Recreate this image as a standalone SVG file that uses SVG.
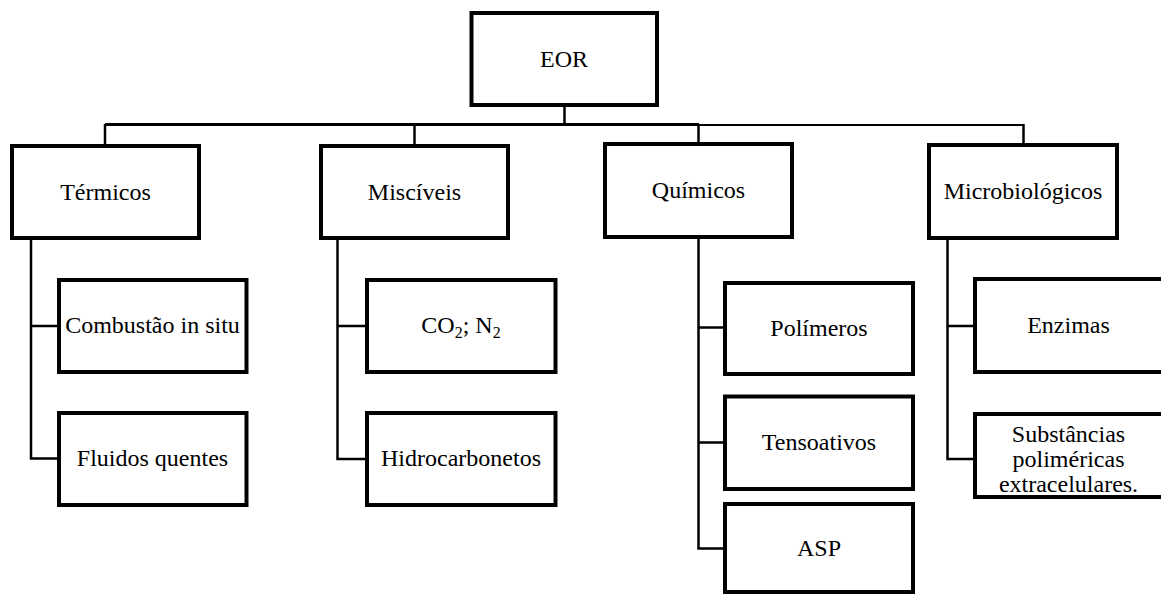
<svg xmlns="http://www.w3.org/2000/svg" width="1161" height="596" viewBox="0 0 1161 596">
<style>
.box{fill:#fff;stroke:#000;stroke-width:4}
text{font-family:'Liberation Serif','DejaVu Serif',serif;font-size:24px;fill:#000;text-anchor:middle}
.c{fill:none;stroke:#000;stroke-width:2.5}
</style>
<rect width="1161" height="596" fill="#fff"/>
<g id="connectors">
<path class="c" d="M564.5 105V125"/>
<path class="c" style="stroke-width:3" d="M105 124.5H699"/>
<path class="c" style="stroke-width:2" d="M699 125H1023.5"/>
<path class="c" d="M105 124V146M414.5 124V146M698.5 124V144M1023.5 124V145"/>
<path class="c" d="M31 238V458.5H59M31 326H59"/>
<path class="c" d="M337.5 238V459H367M337.5 326H367"/>
<path class="c" d="M698.5 237V548.5H725M698.5 327.5H725M698.5 442.5H725"/>
<path class="c" d="M947.5 238V459H975M947.5 326H975"/>
</g>
<g font-family="Liberation Serif, serif" font-size="24" text-anchor="middle">
<g id="eor"><rect class="box" x="471.5" y="13" width="185.5" height="92"/><text x="564" y="67">EOR</text></g>
<g id="termicos"><rect class="box" x="12" y="146" width="187" height="92"/><text x="105.5" y="200">Térmicos</text></g>
<g id="misciveis"><rect class="box" x="321" y="146" width="187" height="92"/><text x="414.5" y="200">Miscíveis</text></g>
<g id="quimicos"><rect class="box" x="605" y="144" width="187" height="93"/><text x="698.5" y="198">Químicos</text></g>
<g id="microbiologicos"><rect class="box" x="929" y="145" width="188" height="93"/><text x="1023" y="199">Microbiológicos</text></g>
<g id="combustao"><rect class="box" x="59" y="280" width="187.5" height="92"/><text x="152.5" y="333">Combustão in situ</text></g>
<g id="fluidos"><rect class="box" x="59" y="413" width="187.5" height="92"/><text x="152.5" y="466">Fluidos quentes</text></g>
<g id="co2n2"><rect class="box" x="367" y="280" width="188.5" height="92"/><text x="461" y="333">CO<tspan font-size="16" dy="5">2</tspan><tspan dy="-5">; N</tspan><tspan font-size="16" dy="5">2</tspan></text></g>
<g id="hidrocarbonetos"><rect class="box" x="367" y="413" width="188.5" height="92"/><text x="461" y="466">Hidrocarbonetos</text></g>
<g id="polimeros"><rect class="box" x="725" y="283" width="188" height="91"/><text x="819" y="336">Polímeros</text></g>
<g id="tensoativos"><rect class="box" x="725" y="396.5" width="188" height="92.5"/><text x="819" y="450">Tensoativos</text></g>
<g id="asp"><rect class="box" x="725" y="504" width="188" height="88"/><text x="819" y="556">ASP</text></g>
<g id="enzimas"><rect class="box" x="975" y="279" width="192" height="93"/><text x="1068.5" y="333">Enzimas</text></g>
<g id="substancias"><rect class="box" x="975" y="414" width="192" height="83"/><text x="1068.5" y="442">Substâncias</text><text x="1068.5" y="467">poliméricas</text><text x="1068.5" y="492">extracelulares.</text></g>
</g>
</svg>
